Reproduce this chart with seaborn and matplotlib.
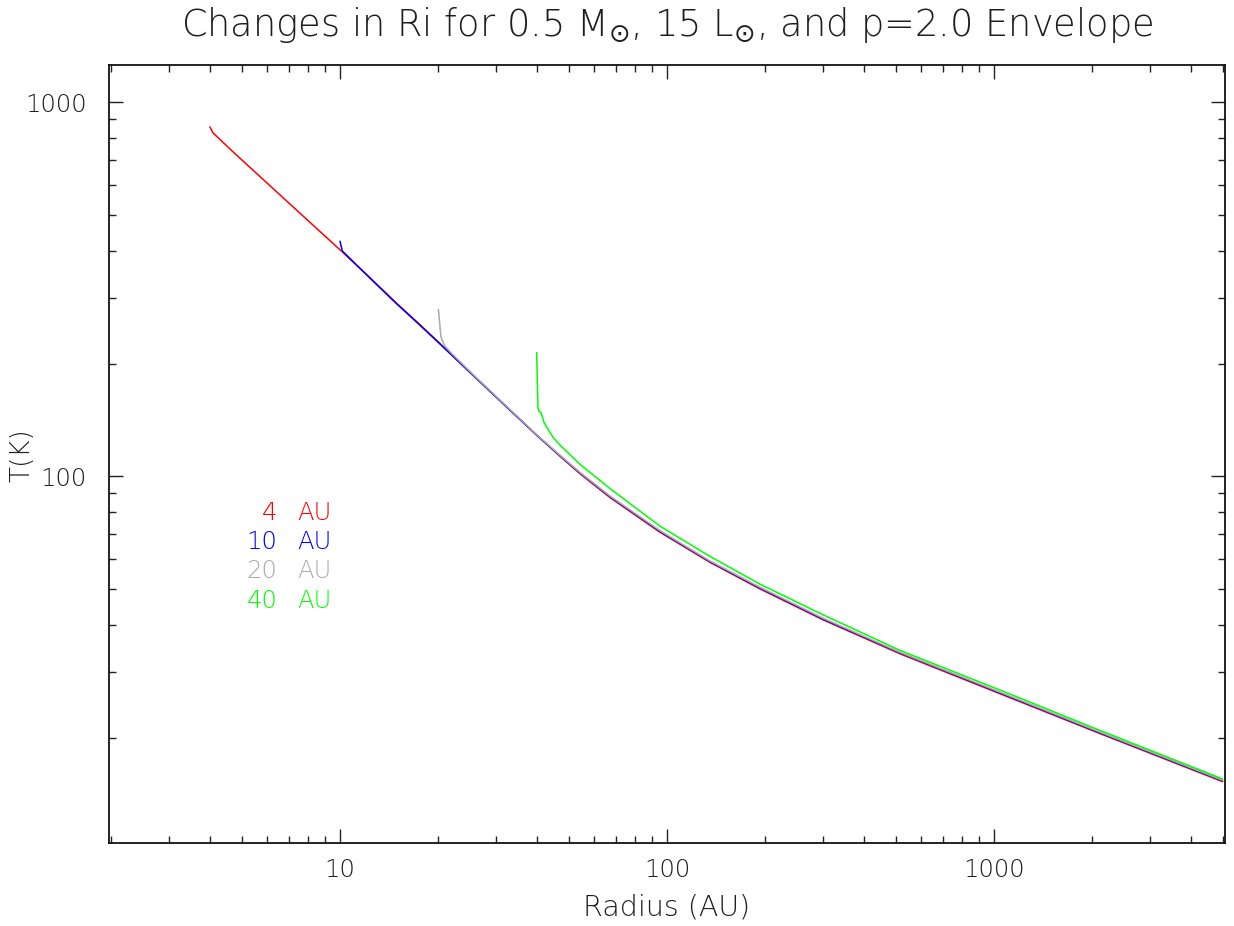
import matplotlib
matplotlib.use("Agg")
import matplotlib.pyplot as plt
import matplotlib.ticker as mticker
import numpy as np
import pandas as pd
import seaborn as sns

# Temperature profiles (radius in AU, temperature in K) for each inner radius Ri
r_4au = [4.0, 4.09, 4.72, 5.97, 7.54, 10.0, 12.5, 14.9, 17.57, 20.2, 25.6, 30.8,
         40.0, 47.1, 54.2, 66.9, 95.2, 135, 192, 300, 516, 1043, 2109, 5000]
t_4au = [859, 828, 735, 609, 505, 403, 336, 290, 254, 226.5, 186, 159.6,
         128.6, 113, 101.5, 87.7, 70.8, 58.9, 50.0, 41.3, 33.5, 26.2, 20.5, 15.25]

r_10au = [10.0, 10.07, 10.17, 12.5, 14.9, 17.57, 20.2, 25.6, 30.8, 40.0, 47.1,
          54.2, 66.9, 95.2, 135, 192, 300, 516, 1043, 2109, 5000]
t_10au = [425, 414, 400, 335, 289, 253.2, 225.8, 185.5, 159.3, 128.6, 113.4,
          102.0, 88.2, 71.2, 59.2, 50.3, 41.5, 33.7, 26.35, 20.6, 15.33]

r_20au = [20.0, 20.35, 20.9, 22.0, 25.6, 30.8, 40.0, 47.1, 54.2, 66.9, 95.2,
          135, 192, 300, 516, 1043, 2109, 5000]
t_20au = [279, 236, 223, 212.5, 186.5, 160.0, 129.0, 113.7, 102.3, 88.5, 71.5,
          59.4, 50.5, 41.7, 33.8, 26.45, 20.68, 15.38]

r_40au = [39.95, 40.3, 40.6, 41.2, 42.1, 44.9, 47.1, 54.2, 66.9, 95.2, 135,
          192, 300, 516, 1043, 2109, 5000]
t_40au = [214, 153, 149, 148, 139, 126.8, 121, 107.6, 92.7, 73.5, 61.1,
          51.5, 42.6, 34.2, 26.8, 20.9, 15.5]

series_labels = ["4", "10", "20", "40"]
series_colors = ["#ff0000", "#0000ff", "#aaaaaa", "#00ff00"]

frames = []
for lab, r, t in zip(series_labels, [r_4au, r_10au, r_20au, r_40au],
                     [t_4au, t_10au, t_20au, t_40au]):
    frames.append(pd.DataFrame({"Radius": r, "T": t, "Ri": lab}))
df = pd.concat(frames, ignore_index=True)

sns.set_theme(style="ticks")
plt.rcParams["font.family"] = ["DejaVu Sans"]
plt.rcParams["mathtext.fontset"] = "dejavusans"
text_color = "#1e1e1e"
light = "light"

fig = plt.figure(figsize=(12.34, 9.26), dpi=100)
ax = fig.add_axes([0.0883, 0.0896, 0.9044, 0.8402])

sns.lineplot(data=df, x="Radius", y="T", hue="Ri", hue_order=series_labels,
             palette=dict(zip(series_labels, series_colors)), sort=False,
             estimator=None, linewidth=1.1, legend=False, ax=ax)

ax.set_xscale("log")
ax.set_yscale("log")
ax.set_xlim(1.966, 5085)
ax.set_ylim(10.45, 1257)

ax.xaxis.set_major_locator(mticker.FixedLocator([10, 100, 1000]))
ax.yaxis.set_major_locator(mticker.FixedLocator([10, 100, 1000]))
ax.xaxis.set_minor_locator(mticker.LogLocator(base=10, subs=np.arange(2, 10), numticks=20))
ax.yaxis.set_minor_locator(mticker.LogLocator(base=10, subs=np.arange(2, 10), numticks=20))
fmt = mticker.FuncFormatter(lambda v, p: f"{v:g}")
ax.xaxis.set_major_formatter(fmt)
ax.yaxis.set_major_formatter(fmt)
ax.xaxis.set_minor_formatter(mticker.NullFormatter())
ax.yaxis.set_minor_formatter(mticker.NullFormatter())

ax.tick_params(which="both", direction="in", top=True, right=True,
               color="#222222", labelcolor=text_color, labelsize=17.5)
ax.tick_params(axis="x", which="major", length=10, width=1.0, pad=11)
ax.tick_params(axis="y", which="major", length=10, width=1.0, pad=16)
ax.tick_params(which="minor", length=5, width=1.0)
for lbl in ax.get_xticklabels() + ax.get_yticklabels():
    lbl.set_fontweight(light)
for s in ax.spines.values():
    s.set_linewidth(1.3)
    s.set_color("#111111")

ax.set_xlabel("Radius (AU)", fontsize=20.5, color=text_color, fontweight=light)
ax.set_ylabel("T(K)", fontsize=19, color=text_color, fontweight=light)
ax.xaxis.set_label_coords(0.5, -0.0835)
ax.yaxis.set_label_coords(-0.078, 0.499)
ax.xaxis.label.set_verticalalignment("center")
ax.yaxis.label.set_verticalalignment("center")

ax.text(0.5, 1.0373,
        r"Changes in Ri for 0.5 M$_{\odot}$, 15 L$_{\odot}$, and p=2.0 Envelope",
        transform=ax.transAxes, ha="center", va="baseline",
        fontsize=26.5, color=text_color, fontweight=light)

# Labels for each inner radius
ys = [0.424, 0.387, 0.350, 0.311]
for lab, col, y in zip(series_labels, series_colors, ys):
    ax.text(0.151, y, lab, color=col, fontsize=17.5, ha="right", va="center",
            transform=ax.transAxes, fontweight=light)
    ax.text(0.169, y, "AU", color=col, fontsize=17.5, ha="left", va="center",
            transform=ax.transAxes, fontweight=light)

fig.savefig("out.png", dpi=100)
